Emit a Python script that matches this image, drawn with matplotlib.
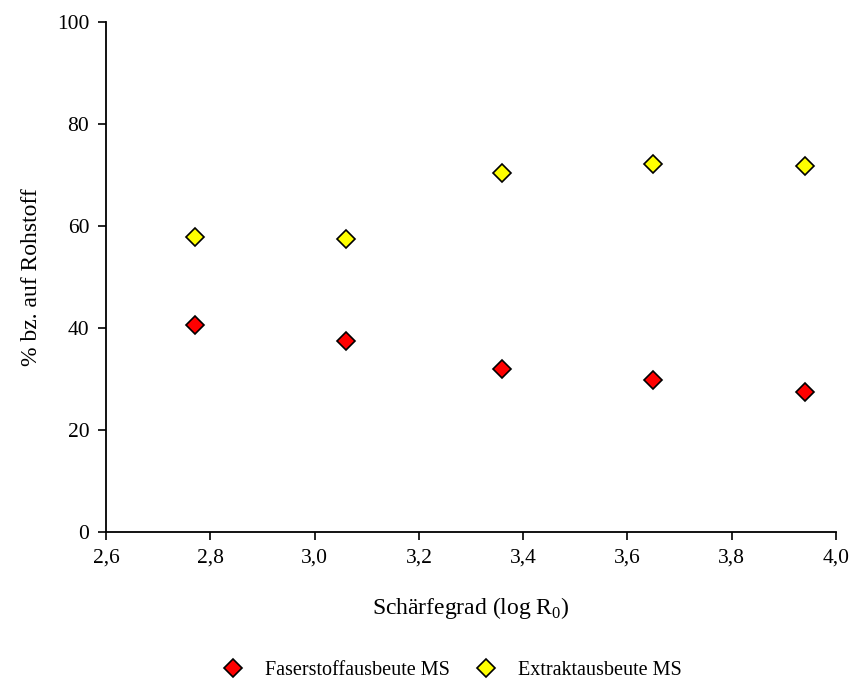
import matplotlib
matplotlib.use("Agg")
import matplotlib.pyplot as plt
from matplotlib.ticker import FuncFormatter

plt.rcParams['font.family'] = ['Liberation Serif', 'DejaVu Serif']
plt.rcParams['mathtext.fontset'] = 'custom'
plt.rcParams['mathtext.rm'] = 'Liberation Serif'

# Severity factor (log R0) and yields in % relative to raw material
severity = [2.77, 3.06, 3.36, 3.65, 3.94]
fibre_yield = [40.6, 37.5, 32.0, 29.8, 27.5]
extract_yield = [57.8, 57.5, 70.4, 72.2, 71.8]
x_ticks = [2.6, 2.8, 3.0, 3.2, 3.4, 3.6, 3.8, 4.0]
y_ticks = [0, 20, 40, 60, 80, 100]

fig = plt.figure(figsize=(8.5, 6.8), dpi=100)
ax = fig.add_axes([0.1247, 0.2176, 0.8588, 0.75])

ax.plot(severity, fibre_yield, linestyle='none', marker='D', markersize=9.5,
        markerfacecolor='#ff0000', markeredgecolor='black', markeredgewidth=1.2,
        label='Faserstoffausbeute MS', clip_on=False)
ax.plot(severity, extract_yield, linestyle='none', marker='D', markersize=9.5,
        markerfacecolor='#ffff00', markeredgecolor='black', markeredgewidth=1.2,
        label='Extraktausbeute MS', clip_on=False)

ax.set_xlim(2.6, 4.0)
ax.set_ylim(0, 100)
ax.set_xticks(x_ticks)
ax.set_yticks(y_ticks)
ax.xaxis.set_major_formatter(FuncFormatter(lambda v, p: f"{v:.1f}".replace('.', ',')))

for s in ['top', 'right']:
    ax.spines[s].set_visible(False)
for s in ['left', 'bottom']:
    ax.spines[s].set_linewidth(1.3)
ax.tick_params(axis='both', direction='out', length=6, width=1.2, labelsize=15.5, pad=6)

ax.set_xlabel('Schärfegrad (log R$_0$)', fontsize=17, labelpad=20)
ax.set_ylabel('% bz. auf Rohstoff', fontsize=17, labelpad=11)

fig.legend(loc='center', bbox_to_anchor=(0.526, 0.014), ncol=2, frameon=False,
           fontsize=14.5, handletextpad=0.6, columnspacing=0.8, markerscale=1.0)

fig.savefig('out.png', dpi=100)
